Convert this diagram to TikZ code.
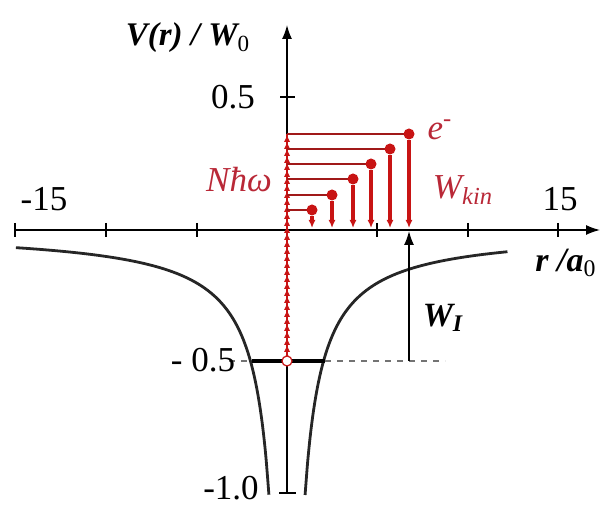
\documentclass[tikz,border=0pt]{standalone}
\usepackage{fontspec}
\setmainfont{Liberation Serif}
\usetikzlibrary{arrows.meta}
\definecolor{myred}{RGB}{200,20,20}
\definecolor{dred}{RGB}{160,25,25}
\definecolor{tred}{RGB}{185,40,55}
\begin{document}
\begin{tikzpicture}[x=0.5pt,y=-0.5pt,
  lbl/.style={font=\fontsize{17.5}{20}\selectfont},
  ilbl/.style={font=\fontsize{17}{20}\selectfont\bfseries\itshape},
  rlbl/.style={font=\fontsize{17.5}{20}\selectfont\itshape, text=tred},
  axis/.style={line width=0.75pt, black},
  level/.style={line width=1.2pt, dred},
  stem/.style={line width=2pt, myred, -{Latex[length=4pt,width=3.5pt]}},
  ball/.style={circle, fill=myred, inner sep=0pt, minimum size=5.5pt}]
\useasboundingbox (0,0) rectangle (608,506);
% axes
\coordinate (xl) at (15,230);
\coordinate (xr) at (600,230);
\coordinate (yt) at (287,25);
\coordinate (yb) at (287,493);
\draw[axis,-{Latex[length=7pt,width=5pt]}] (xl) -- (xr);
\draw[axis,-{Latex[length=7pt,width=5pt]}] (yb) -- (yt);
\draw[axis] (279,493) -- (296,493);
\foreach \x in {15,106,197,377,468,558} \draw[axis] (\x,223) -- (\x,237);
\draw[axis] (280,97) -- (295,97);
% potential
\draw[line width=1.4pt, black!85] plot[domain=-15:-1,samples=80,smooth] ({287+18.07*\x},{230-265/\x});
\draw[line width=1.4pt, black!85] plot[domain=1:12.2,samples=80,smooth] ({287+18.07*\x},{230+265/\x});
% ground level
\draw[dashed, black!55, line width=0.6pt] (229,361) -- (445,361);
\draw[line width=2pt, black] (252,361) -- (325,361);
% W_I arrow
\coordinate (wb) at (409,361);
\coordinate (wt) at (409,231);
\draw[axis,-{Latex[length=7pt,width=5pt]}] (wb) -- (wt);
% red photon ladder
\draw[myred, line width=0.8pt] (287,358) -- (287,134);
\foreach \y in {139,146,...,358} \fill[myred] (284,\y+3) -- (290,\y+3) -- (287,\y-3) -- cycle;
% levels and electrons
\foreach \xx/\yy [count=\i] in {312/210,332/195,353/179,371/164,390/149,409/134} {
  \draw[level] (287,\yy) -- (\xx,\yy);
  \node[ball] (e\i) at (\xx,\yy) {};
  \coordinate (a\i) at (\xx,228);
  \draw[stem] (e\i) -- (a\i);
}
\node[circle, draw=myred, fill=white, inner sep=0pt, minimum size=5pt, line width=0.6pt] (g) at (287,361) {};
% labels
\node[ilbl, font=\fontsize{16.5}{20}\selectfont\bfseries\itshape] (vl) at (188,38) {V(r) / W\textsubscript{\upshape\mdseries 0}};
\node[lbl] (l05) at (233,97) {0.5};
\node[lbl] (lm15) at (44,199) {-15};
\node[lbl] (l15) at (560,199) {15};
\node[ilbl] (rl) at (566,263) {r /a\textsubscript{\upshape\mdseries 0}};
\node[lbl] (lm05) at (203,360) {- 0.5};
\node[lbl] (lm10) at (231,488) {-1.0};
\node[ilbl] (wi) at (443,318) {W\textsubscript{I}};
\node[rlbl] (nhw) at (239,180) {Nħω};
\node[rlbl] (wk) at (463,190) {W\textsubscript{kin}};
\node[rlbl] (el) at (440,130) {e\textsuperscript{-}};
\end{tikzpicture}
\end{document}
